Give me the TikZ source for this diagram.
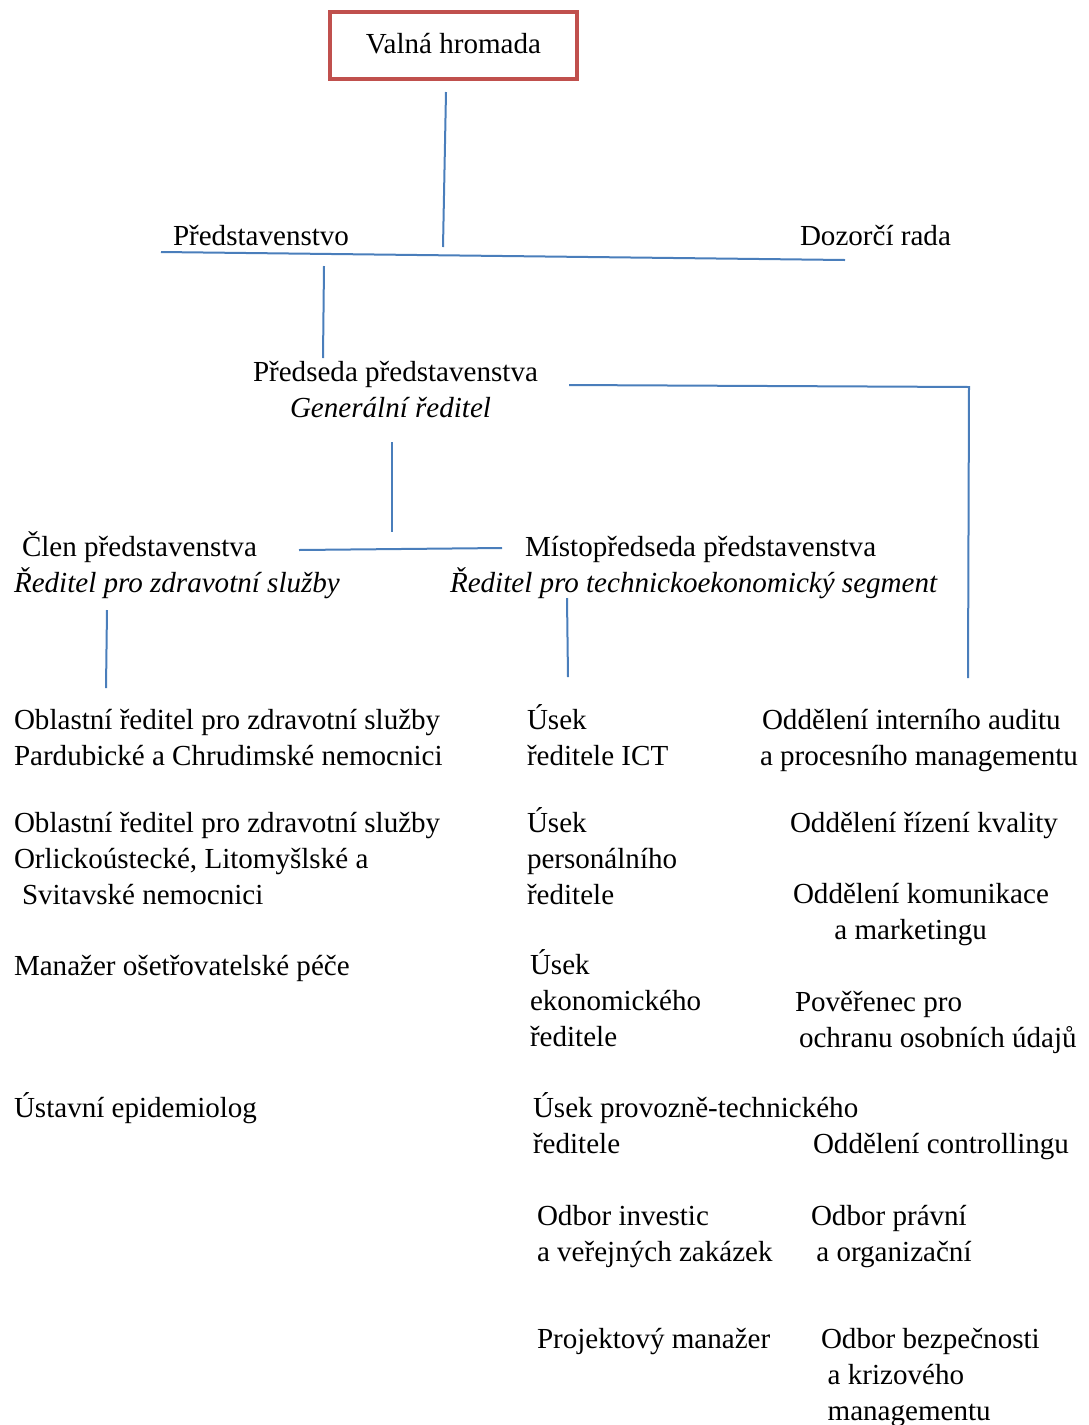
\documentclass[tikz,border=0pt]{standalone}
\usepackage{fontspec}
\setmainfont{Liberation Serif}
\definecolor{lineblue}{HTML}{4A7EBB}
\definecolor{boxred}{HTML}{C0504D}
\newcommand\blk[1]{\begin{tabular}[t]{@{}l@{}}#1\end{tabular}}
\begin{document}
\begin{tikzpicture}[x=0.75pt,y=-0.75pt,
  txt/.style={inner sep=0pt, outer sep=0pt, anchor=base west, font=\fontsize{21.8pt}{27pt}\selectfont},
  conn/.style={draw=lineblue, line width=1.5pt},
  topbox/.style={draw=boxred, line width=2.4pt, inner sep=0pt, minimum width=185.25pt, minimum height=50.25pt, font=\fontsize{21.8pt}{27pt}\selectfont}]
\useasboundingbox (0,0) rectangle (1089,1425);

% top box
\node[topbox] (vh) at (453.5,45.5) {\raisebox{2.5pt}{Valná hromada}};

% board level
\node[txt] (pred) at (173,245) {Představenstvo};
\node[txt] (dozor) at (800,245) {Dozorčí rada};

\node[txt] (predseda) at (253,381) {Předseda představenstva};
\node[txt] (gen) at (290,417) {\itshape Generální ředitel};

\node[txt] (clen) at (22,556) {Člen představenstva};
\node[txt] (clenr) at (14,592) {\itshape Ředitel pro zdravotní služby};
\node[txt] (misto) at (525,556) {Místopředseda představenstva};
\node[txt] (mistor) at (450,592) {\itshape Ředitel pro technickoekonomický segment};

% left column
\node[txt] (ob1) at (14,729) {\blk{Oblastní ředitel pro zdravotní služby\\Pardubické a Chrudimské nemocnici}};
\node[txt] (ob2) at (14,832) {\blk{Oblastní ředitel pro zdravotní služby\\Orlickoústecké, Litomyšlské a\\\hspace*{6pt}Svitavské nemocnici}};
\node[txt] (man) at (14,975) {Manažer ošetřovatelské péče};
\node[txt] (epi) at (14,1117) {Ústavní epidemiolog};

% middle column
\node[txt] (ict) at (527,729) {\blk{Úsek\\ředitele ICT}};
\node[txt] (pers) at (527,832) {\blk{Úsek\\personálního\\ředitele}};
\node[txt] (ekon) at (530,974) {\blk{Úsek\\ekonomického\\ředitele}};
\node[txt] (prov) at (533,1117) {\blk{Úsek provozně-technického\\ředitele}};
\node[txt] (inv) at (537,1225) {\blk{Odbor investic\\a veřejných zakázek}};
\node[txt] (proj) at (537,1348) {Projektový manažer};

% right column
\node[txt] (audit) at (762,729) {\blk{Oddělení interního auditu\\\hspace*{-1.5pt}a procesního managementu}};
\node[txt] (kval) at (790,832) {Oddělení řízení kvality};
\node[txt] (komun) at (793,903) {\blk{Oddělení komunikace\\\hspace*{31pt}a marketingu}};
\node[txt] (pov) at (795,1011) {\blk{Pověřenec pro\\\hspace*{3pt}ochranu osobních údajů}};
\node[txt] (contr) at (813,1153) {Oddělení controllingu};
\node[txt] (prav) at (811,1225) {\blk{Odbor právní\\\hspace*{4pt}a organizační}};
\node[txt] (bezp) at (821,1348) {\blk{Odbor bezpečnosti\\\hspace*{5pt}a krizového\\\hspace*{5pt}managementu}};

% connector end points
\coordinate (vhB) at (446,92);
\coordinate (vhE) at (443,247);
\coordinate (boardL) at (161,252);
\coordinate (boardR) at (845,260);
\coordinate (predT) at (324,266);
\coordinate (predB) at (323,358);
\coordinate (gsR) at (569,385);
\coordinate (gsC) at (969,387);
\coordinate (gsE) at (968,678);
\coordinate (genB) at (392,442);
\coordinate (genE) at (392,532);
\coordinate (hL) at (299,550);
\coordinate (hR) at (502,548);
\coordinate (clB) at (107,610);
\coordinate (clE) at (106,688);
\coordinate (miB) at (567,598);
\coordinate (miE) at (568,677);

\draw[conn] (vhB) -- (vhE);
\draw[conn] (boardL) -- (boardR);
\draw[conn] (predT) -- (predB);
\draw[conn] (gsR) -- (gsC) -- (gsE);
\draw[conn] (genB) -- (genE);
\draw[conn] (hL) -- (hR);
\draw[conn] (clB) -- (clE);
\draw[conn] (miB) -- (miE);
\end{tikzpicture}
\end{document}
